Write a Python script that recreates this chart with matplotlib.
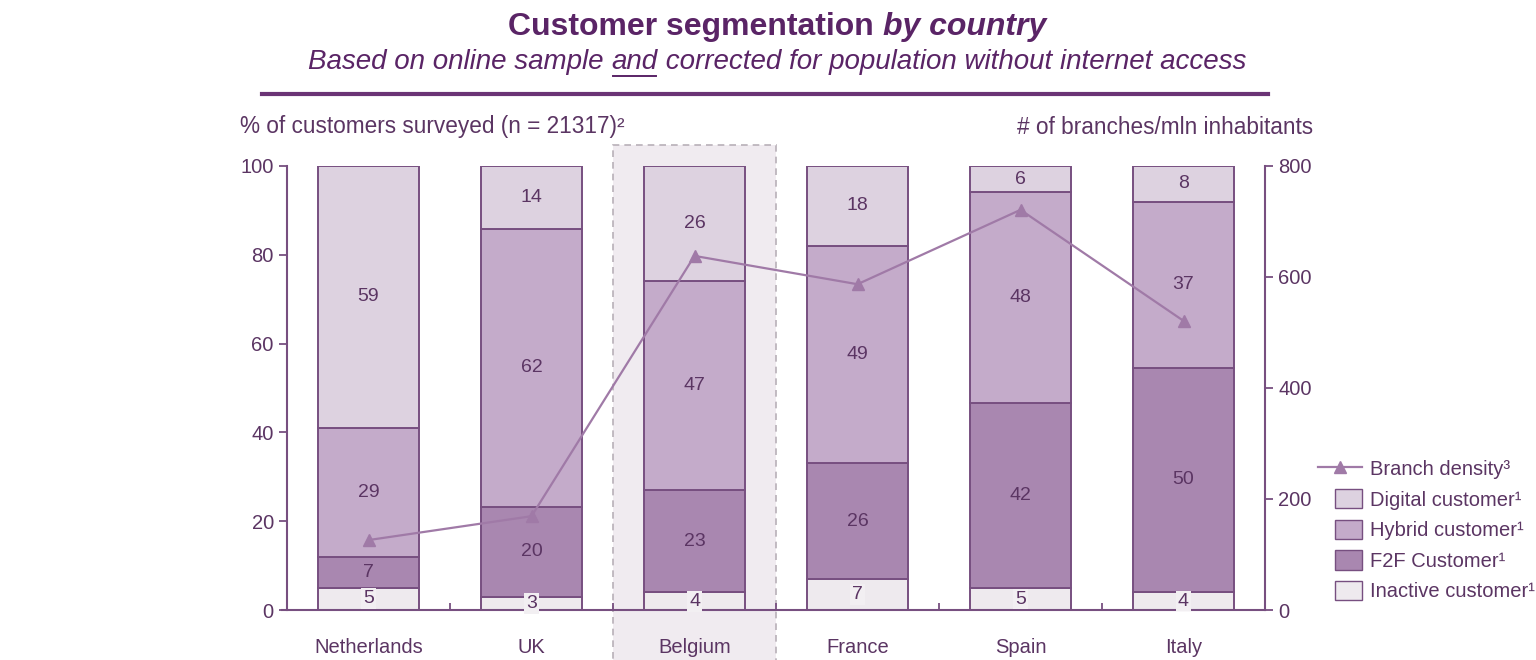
import numpy as np
import matplotlib.pyplot as plt
from matplotlib.patches import Rectangle, Patch
from matplotlib.lines import Line2D
from matplotlib.legend_handler import HandlerPatch

plt.rcParams['font.family'] = ['Liberation Sans', 'DejaVu Sans']

countries = ['Netherlands', 'UK', 'Belgium', 'France', 'Spain', 'Italy']
inactive = [5, 3, 4, 7, 5, 4]
f2f = [7, 20, 23, 26, 42, 50]
hybrid = [29, 62, 47, 49, 48, 37]
digital = [59, 14, 26, 18, 6, 8]
branch_density = [126, 169, 638, 587, 721, 521]

c_inactive = '#eeeaee'
c_f2f = '#a987b0'
c_hybrid = '#c4abca'
c_digital = '#ddd2e0'
edge = '#774f80'
txt = '#5b3563'
title_c = '#5a2466'

segs = np.array([inactive, f2f, hybrid, digital], dtype=float)
# bars in the chart all reach 100
shares = segs / segs.sum(axis=0) * 100
cols = [c_inactive, c_f2f, c_hybrid, c_digital]

fig = plt.figure(figsize=(15.36, 6.6), dpi=100)
ax = fig.add_axes([287/1536, 50/660, (1265-287)/1536, (610-166)/660])
x = np.arange(len(countries))

# highlight Belgium
ax.add_patch(Rectangle((1.5, -15), 1.0, 119.7, facecolor='#f0ebf0', edgecolor='#b8b0b8',
                       linestyle=(0, (4, 3)), lw=1.2, clip_on=False, zorder=0))

bottom = np.zeros(len(countries))
for k in range(4):
    ax.bar(x, shares[k], 0.615, bottom=bottom, color=cols[k], edgecolor=edge, lw=1.4, zorder=2)
    for i in range(len(countries)):
        yc = bottom[i] + shares[k][i] / 2
        if k == 0:
            ax.text(x[i], yc, str(int(segs[k][i])), ha='center', va='center', fontsize=14, color=txt,
                    zorder=4, bbox=dict(boxstyle='square,pad=0.1', fc='#f2eff2', ec='none'))
        else:
            ax.text(x[i], yc, str(int(segs[k][i])), ha='center', va='center', fontsize=14,
                    color=txt, zorder=4)
    bottom += shares[k]

ax.set_xlim(-0.5, 5.5)
ax.set_ylim(0, 100)
ax.set_yticks([0, 20, 40, 60, 80, 100])
ax.set_xticks(x)
ax.set_xticklabels(countries, fontsize=14.5, color=txt)
ax.set_xticks(np.arange(0.5, 5.5, 1), minor=True)
ax.tick_params(axis='x', which='major', length=0, pad=20)
ax.tick_params(axis='x', which='minor', length=5, direction='in', color=edge, width=1.3)
ax.tick_params(axis='y', labelsize=14.5, labelcolor=txt, color=edge, length=6, width=1.3)
for s in ['top', 'right']:
    ax.spines[s].set_visible(False)
for s in ['left', 'bottom']:
    ax.spines[s].set_color(edge)
    ax.spines[s].set_linewidth(1.5)
ax.spines['bottom'].set_bounds(-0.53, 5.5)
ax.patch.set_alpha(0)

ax2 = ax.twinx()
ax2.plot(x, branch_density, color='#a07aa7', lw=1.6, marker='^', markersize=8, zorder=5)
ax2.set_ylim(0, 800)
ax2.set_yticks([0, 200, 400, 600, 800])
ax2.tick_params(axis='y', labelsize=14.5, labelcolor=txt, color=edge, length=6, width=1.3)
for s in ['top', 'left', 'bottom']:
    ax2.spines[s].set_visible(False)
ax2.spines['right'].set_color(edge)
ax2.spines['right'].set_linewidth(1.5)

# axis headers
fig.text(240/1536, 1-127/660, '% of customers surveyed (n = 21317)²', fontsize=16.3, color=txt,
         ha='left', va='center')
fig.text(1313/1536, 1-127/660, '# of branches/mln inhabitants', fontsize=16.3, color=txt,
         ha='right', va='center')


# legend (small square patches, longer line handle)
def small_box(legend, orig_handle, xdescent, ydescent, width, height, fontsize):
    return Rectangle((-xdescent + width - 20, -ydescent), 20, height)


handles = [Line2D([], [], color='#a07aa7', lw=1.6, marker='^', markersize=8),
           Patch(fc=c_digital, ec=edge), Patch(fc=c_hybrid, ec=edge),
           Patch(fc=c_f2f, ec=edge), Patch(fc=c_inactive, ec=edge)]
labels = ['Branch density³', 'Digital customer¹', 'Hybrid customer¹', 'F2F Customer¹',
          'Inactive customer¹']
leg = fig.legend(handles, labels, loc='center left', bbox_to_anchor=(1318/1536, 1-530/660),
                 frameon=False, fontsize=14.5, handlelength=2.2, handleheight=1.1,
                 labelspacing=0.5, handletextpad=0.4, borderaxespad=0, borderpad=0,
                 handler_map={Patch: HandlerPatch(patch_func=small_box)})
for t in leg.get_texts():
    t.set_color(txt)

# title: bold part + bold italic part
r = fig.canvas.get_renderer()
cx = 777/1536
t1 = fig.text(0, 0, 'Customer segmentation ', fontsize=23, fontweight='bold', color=title_c)
t2 = fig.text(0, 0, 'by country', fontsize=23, fontweight='bold', style='italic', color=title_c)
w1 = t1.get_window_extent(r).width / fig.bbox.width
w2 = t2.get_window_extent(r).width / fig.bbox.width
x0 = cx - (w1 + w2) / 2
t1.set_position((x0, 1-27/660)); t1.set_va('center')
t2.set_position((x0 + w1, 1-27/660)); t2.set_va('center')

# subtitle with underlined "and"
ys = 1-62/660
s1 = 'Based on online sample '
s2 = 'and'
s3 = ' corrected for population without internet access'
parts = []
for s in [s1, s2, s3]:
    parts.append(fig.text(0, ys, s, fontsize=20, style='italic', color=title_c, va='center'))
ws = [p.get_window_extent(r).width / fig.bbox.width for p in parts]
xs = cx - sum(ws) / 2
for p, w in zip(parts, ws):
    p.set_x(xs)
    xs += w
xa = cx - sum(ws) / 2 + ws[0]
fig.add_artist(Line2D([xa + 0.001, xa + ws[1] - 0.001], [1-76/660, 1-76/660], color=title_c, lw=1.4))

# rule under subtitle
fig.add_artist(Line2D([262/1536, 1268/1536], [1-94/660, 1-94/660], color='#6b3475', lw=3))

fig.savefig('out.png', dpi=100)
